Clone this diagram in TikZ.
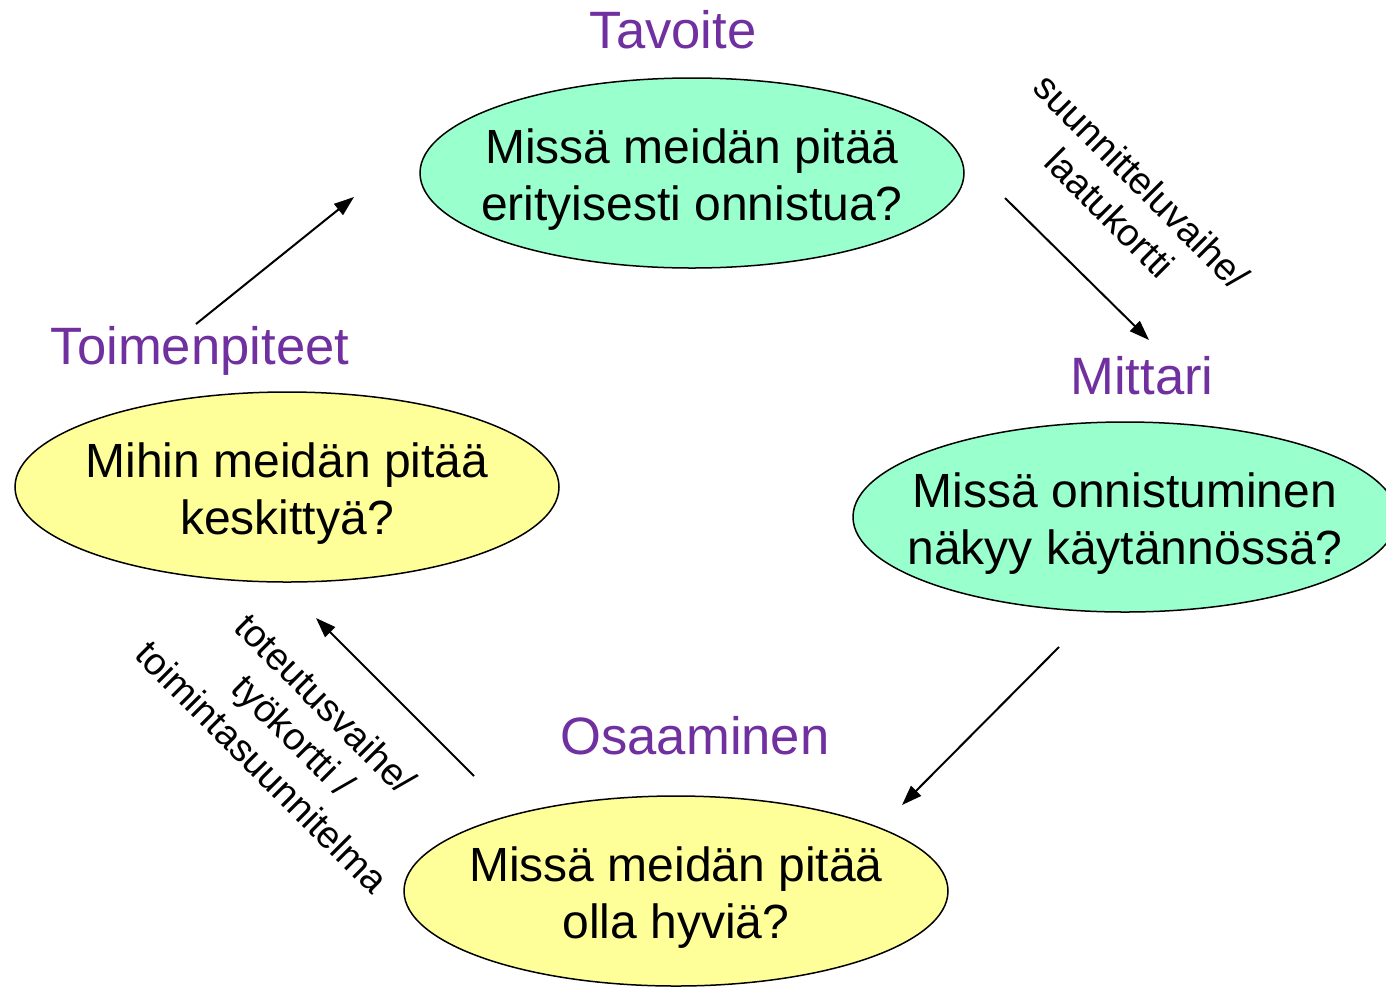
\documentclass[tikz,border=0pt]{standalone}
\usepackage{fontspec}
\setmainfont{Liberation Sans}
\usetikzlibrary{shapes.geometric,arrows.meta}
\definecolor{mint}{RGB}{153,255,204}
\definecolor{pale}{RGB}{255,255,153}
\definecolor{titlepurple}{RGB}{112,48,160}
\begin{document}
\begin{tikzpicture}[x=0.5pt,y=-0.5pt,
  bubble/.style={ellipse,draw=black,line width=0.75pt,minimum width=272pt,minimum height=95pt,inner sep=0pt},
  btext/.style={align=center,inner sep=0pt,font=\fontsize{24}{28.5}\selectfont,yshift=-3.5pt},
  title/.style={text=titlepurple,font=\fontsize{26.3}{30}\selectfont,inner sep=0pt,anchor=base},
  flow/.style={line width=1pt,-{Triangle[length=10pt,width=7pt]}},
  side/.style={rotate=-45,align=center,font=\fontsize{19}{22.5}\selectfont,inner sep=0pt}]
\useasboundingbox (0,0) rectangle (1386,986);
\fill[white] (0,0) rectangle (1386,986);
% ellipses
\node[bubble,fill=mint] (tav) at (692,173) {};
\node[btext] (tavT) at (tav) {Missä meidän pitää\\erityisesti onnistua?};
\node[bubble,fill=mint] (mit) at (1125,517) {};
\node[btext] (mitT) at (mit) {Missä onnistuminen\\näkyy käytännössä?};
\node[bubble,fill=pale] (osa) at (676,891) {};
\node[btext] (osaT) at (osa) {Missä meidän pitää\\olla hyviä?};
\node[bubble,fill=pale] (toi) at (287,487) {};
\node[btext] (toiT) at (toi) {Mihin meidän pitää\\keskittyä?};
% titles
\node[title] (tTav) at (673,48) {Tavoite};
\node[title] (tToi) at (200,364) {Toimenpiteet};
\node[title] (tMit) at (1142,394) {Mittari};
\node[title] (tOsa) at (695,754) {Osaaminen};
% arrow endpoints
\coordinate (a1s) at (196,324); \coordinate (a1e) at (354,197);
\coordinate (a2s) at (1005,198); \coordinate (a2e) at (1149,340);
\coordinate (a3s) at (1059,647); \coordinate (a3e) at (902,805);
\coordinate (a4s) at (474,776); \coordinate (a4e) at (316,618);
\draw[flow] (a1s) -- (a1e);
\draw[flow] (a2s) -- (a2e);
\draw[flow] (a3s) -- (a3e);
\draw[flow] (a4s) -- (a4e);
% side labels
\node[side] (lab1) at (1126,197) {suunnitteluvaihe/\\laatukortti};
\node[side] (lab2) at (294,735) {toteutusvaihe/\\työkortti /\\toimintasuunnitelma};
\end{tikzpicture}
\end{document}
